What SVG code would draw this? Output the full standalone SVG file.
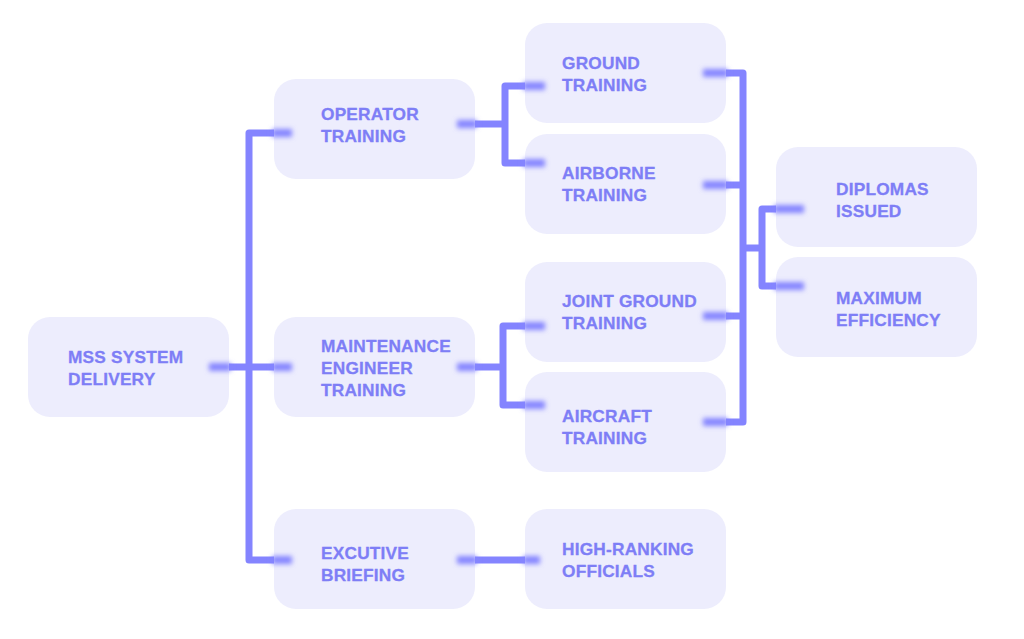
<svg xmlns="http://www.w3.org/2000/svg" width="1024" height="639" viewBox="0 0 1024 639">
  <defs>
    <filter id="soft" filterUnits="userSpaceOnUse" x="0" y="0" width="1024" height="639">
      <feGaussianBlur stdDeviation="2.8"/>
    </filter>
    <style>
      .box { fill: #EDEDFD; }
      .lbl { font-family: "Liberation Sans", Arial, sans-serif; font-weight: bold; font-size: 17.3px; fill: #7E7EF6; stroke: #7E7EF6; stroke-width: 0.3px; letter-spacing: 0.2px; }
      .ln { fill: none; stroke: #8484FF; stroke-width: 7; stroke-linejoin: round; }
      .stub { fill: none; stroke: #8484FF; stroke-width: 8; filter: url(#soft); }
    </style>
  </defs>
  <rect width="1024" height="639" fill="#FFFFFF"/>

  <g id="node-mss">
    <rect class="box" x="28" y="317" width="201" height="100" rx="22"/>
    <text class="lbl"><tspan x="68" y="363">MSS SYSTEM</tspan><tspan x="68" y="385">DELIVERY</tspan></text>
  </g>
  <g id="node-operator">
    <rect class="box" x="274" y="79" width="201" height="100" rx="22"/>
    <text class="lbl"><tspan x="321" y="120">OPERATOR</tspan><tspan x="321" y="142">TRAINING</tspan></text>
  </g>
  <g id="node-maintenance">
    <rect class="box" x="274" y="317" width="201" height="100" rx="22"/>
    <text class="lbl"><tspan x="321" y="352">MAINTENANCE</tspan><tspan x="321" y="374">ENGINEER</tspan><tspan x="321" y="396">TRAINING</tspan></text>
  </g>
  <g id="node-executive">
    <rect class="box" x="274" y="509" width="201" height="100" rx="22"/>
    <text class="lbl"><tspan x="321" y="559">EXCUTIVE</tspan><tspan x="321" y="581">BRIEFING</tspan></text>
  </g>
  <g id="node-ground">
    <rect class="box" x="525" y="23" width="201" height="100" rx="22"/>
    <text class="lbl"><tspan x="562" y="69">GROUND</tspan><tspan x="562" y="91">TRAINING</tspan></text>
  </g>
  <g id="node-airborne">
    <rect class="box" x="525" y="134" width="201" height="100" rx="22"/>
    <text class="lbl"><tspan x="562" y="179">AIRBORNE</tspan><tspan x="562" y="201">TRAINING</tspan></text>
  </g>
  <g id="node-jointground">
    <rect class="box" x="525" y="262" width="201" height="100" rx="22"/>
    <text class="lbl"><tspan x="562" y="307">JOINT GROUND</tspan><tspan x="562" y="329">TRAINING</tspan></text>
  </g>
  <g id="node-aircraft">
    <rect class="box" x="525" y="372" width="201" height="100" rx="22"/>
    <text class="lbl"><tspan x="562" y="422">AIRCRAFT</tspan><tspan x="562" y="444">TRAINING</tspan></text>
  </g>
  <g id="node-highranking">
    <rect class="box" x="525" y="509" width="201" height="100" rx="22"/>
    <text class="lbl"><tspan x="562" y="555">HIGH-RANKING</tspan><tspan x="562" y="577">OFFICIALS</tspan></text>
  </g>
  <g id="node-diplomas">
    <rect class="box" x="776" y="147" width="201" height="100" rx="22"/>
    <text class="lbl"><tspan x="836" y="195">DIPLOMAS</tspan><tspan x="836" y="217">ISSUED</tspan></text>
  </g>
  <g id="node-maximum">
    <rect class="box" x="776" y="257" width="201" height="100" rx="22"/>
    <text class="lbl"><tspan x="836" y="304">MAXIMUM</tspan><tspan x="836" y="326">EFFICIENCY</tspan></text>
  </g>

  <g id="connectors">
    <path class="ln" d="M229 367 H274"/>
    <path class="ln" d="M274 133 H249 V560 H274"/>
    <path class="ln" d="M475 124 H505"/>
    <path class="ln" d="M525 86 H505 V163 H525"/>
    <path class="ln" d="M475 367 H503"/>
    <path class="ln" d="M525 326 H503 V405 H525"/>
    <path class="ln" d="M475 560 H525"/>
    <path class="ln" d="M726 73 H743 V422 H726"/>
    <path class="ln" d="M726 185 H743"/>
    <path class="ln" d="M726 316 H743"/>
    <path class="ln" d="M743 248 H762"/>
    <path class="ln" d="M776 209 H762 V286 H776"/>
    <g id="stubs">
      <path class="stub" d="M209 367 H231"/>
      <path class="stub" d="M272 367 H292"/>
      <path class="stub" d="M272 133 H292"/>
      <path class="stub" d="M272 560 H292"/>
      <path class="stub" d="M457 124 H477"/>
      <path class="stub" d="M457 367 H477"/>
      <path class="stub" d="M457 560 H477"/>
      <path class="stub" d="M523 86 H545"/>
      <path class="stub" d="M523 163 H545"/>
      <path class="stub" d="M523 326 H545"/>
      <path class="stub" d="M523 405 H545"/>
      <path class="stub" d="M523 560 H540"/>
      <path class="stub" d="M703 73 H728"/>
      <path class="stub" d="M703 185 H728"/>
      <path class="stub" d="M703 316 H728"/>
      <path class="stub" d="M703 422 H728"/>
      <path class="stub" d="M774 209 H804"/>
      <path class="stub" d="M774 286 H804"/>
    </g>
  </g>
</svg>
